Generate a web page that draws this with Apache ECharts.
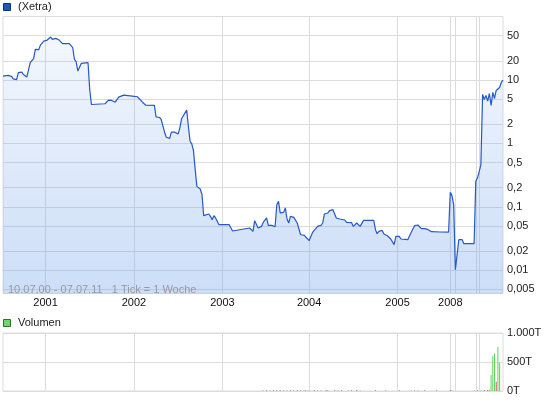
<!DOCTYPE html>
<html><head><meta charset="utf-8">
<script src="https://cdn.jsdelivr.net/npm/echarts@6/dist/echarts.min.js"></script>
<style>html,body{margin:0;padding:0;background:#fff}#c{width:545px;height:401px}</style>
</head><body><div id="c"></div>
<script>
// week index (1 Tick = 1 Woche) and price
const weeks = [0,1,3,5,6,8,9,11,12,14,16,18,19,21,22,24,26,28,29,31,33,35,39,41,42,43,44,45,46,50,51,52,60,62,64,66,68,71,76,79,82,84,89,90,92,93,95,96,98,99,101,103,104,105,106,108,109,110,111,112,113,114,116,117,118,119,121,122,123,124,125,127,133,135,136,145,147,148,149,150,152,153,155,156,158,160,161,162,163,165,166,167,168,169,171,172,173,174,175,177,179,180,181,182,183,185,186,187,188,189,191,192,194,195,196,198,201,202,203,205,206,207,208,209,210,212,218,219,220,221,223,224,226,228,229,230,231,233,234,238,240,242,244,246,248,250,252,257,262,263,264,265,266,267,268,270,271,277,278,279,280,281,282,283,284,285,286,287,288,289,290,291,292,293,294];
const prices = [11.5,10.8,11.8,11.4,10.4,10.1,13.0,13.3,12.2,11.1,18.7,21.6,30.3,30.0,35.4,41.0,42.5,47.4,43.6,45.2,42.5,37.3,37.3,32.2,21.1,19.4,13.8,15.9,18.2,18.7,7.0,4.1,4.21,4.8,4.75,4.46,5.35,5.75,5.55,5.43,4.46,4.0,3.96,2.62,2.56,2.38,1.5,1.25,1.2,1.5,1.5,1.41,1.76,2.44,2.59,3.34,1.86,1.08,0.98,0.77,0.386,0.21,0.191,0.156,0.0725,0.0744,0.0771,0.0707,0.0627,0.0725,0.0667,0.0523,0.0523,0.0416,0.0447,0.0464,0.041,0.0605,0.0589,0.0464,0.0491,0.0568,0.0667,0.051,0.051,0.0486,0.108,0.122,0.08,0.0818,0.0959,0.0643,0.0556,0.0707,0.0682,0.0707,0.0556,0.0542,0.0363,0.0359,0.0314,0.0292,0.0311,0.0395,0.041,0.0491,0.0474,0.051,0.0556,0.0771,0.08,0.087,0.0902,0.0902,0.0667,0.0643,0.062,0.0568,0.0548,0.0562,0.0491,0.0474,0.0556,0.0568,0.0491,0.0611,0.0611,0.0436,0.0377,0.041,0.0425,0.0373,0.035,0.0311,0.0292,0.0253,0.0342,0.0342,0.0311,0.0303,0.0395,0.0504,0.0517,0.0452,0.0452,0.0436,0.0405,0.0401,0.0398,0.169,0.15,0.108,0.0102,0.0102,0.0303,0.0303,0.0262,0.0262,0.252,0.286,0.359,0.463,5.9,4.92,5.69,4.63,6.12,3.96,6.35,5.1,6.83,6.58,7.61,9.13,9.93];

// volume (in T), 1 = up (green), 0 = down (red)
const volWeeks = [153,155,157,159,161,163,165,167,169,171,173,175,177,178,180,183,185,187,190,191,195,197,199,203,205,208,210,219,225,233,240,242,244,248,255,263,264,277,279,281,283,285,286,287,288,289,290,291,292];
const volValues = [12,14,12,15,18,14,12,15,12,14,12,16,14,12,15,18,14,12,16,14,12,15,12,14,12,18,12,14,12,15,12,14,12,15,12,16,14,12,15,14,16,18,22,274,600,647,160,760,485];
const volUp = [1,0,1,0,1,0,1,1,0,1,0,1,1,0,1,0,1,1,0,1,0,1,0,1,0,0,1,0,1,0,1,1,1,0,0,0,1,1,0,1,0,0,1,1,1,1,0,1,1];

const yearWeeks = [25,77,129,180,232,263,266,278,280];
const yearLabels = ['2001','2002','2003','2004','2005','2008','','',''];
const priceTicks = [0.005,0.01,0.02,0.05,0.1,0.2,0.5,1,2,5,10,20,50];
const priceTickLabels = ['0,005','0,01','0,02','0,05','0,1','0,2','0,5','1','2','5','10','20','50'];
const volTicks = [0,500,1000];
const volTickLabels = ['0T','500T','1.000T'];

const FONT = 'Liberation Sans, Arial, sans-serif';
const GRID = '#dcdcdc';

const chart = echarts.init(document.getElementById('c'), null, {renderer:'canvas'});
function priceLabel(v){
  let best = 0, bd = Infinity;
  priceTicks.forEach((t,i)=>{const d=Math.abs(Math.log(v/t)); if(d<bd){bd=d;best=i;}});
  return priceTickLabels[best];
}
const labelWeeks = yearWeeks.filter((w,i)=>yearLabels[i]);
chart.setOption({
  animation:false,
  grid:[
    {left:3,right:42,top:16.5,height:277,show:true,borderColor:GRID,borderWidth:1},
    {left:3,right:42,top:333,height:58,show:true,borderColor:GRID,borderWidth:1}
  ],
  xAxis:[
    {type:'value',gridIndex:0,min:0,max:294,axisLine:{show:false},
     axisTick:{show:false,customValues:yearWeeks},
     axisLabel:{customValues:labelWeeks,formatter:v=>yearLabels[yearWeeks.indexOf(v)],color:'#111',fontSize:11,fontFamily:FONT,margin:4},
     splitLine:{show:true,lineStyle:{color:GRID,width:1}}},
    {type:'value',gridIndex:1,min:0,max:294,axisLine:{show:false},
     axisTick:{show:false,customValues:yearWeeks},axisLabel:{show:false},
     splitLine:{show:true,lineStyle:{color:GRID,width:1}}}
  ],
  yAxis:[
    {type:'log',gridIndex:0,min:0.0043,max:100,position:'right',axisLine:{show:false},
     axisTick:{show:false,customValues:priceTicks},
     axisLabel:{customValues:priceTicks,formatter:priceLabel,color:'#222',fontSize:11,fontFamily:FONT,margin:4},
     splitLine:{show:true,lineStyle:{color:GRID,width:1}}},
    {type:'value',gridIndex:1,min:0,max:1000,interval:500,position:'right',axisLine:{show:false},axisTick:{show:false},
     axisLabel:{formatter:v=>volTickLabels[volTicks.indexOf(v)],color:'#222',fontSize:11,fontFamily:FONT,margin:4},
     splitLine:{show:true,lineStyle:{color:GRID,width:1}}}
  ],
  series:[
    {type:'line',xAxisIndex:0,yAxisIndex:0,symbol:'none',
     data:weeks.map((w,i)=>[w,prices[i]]),
     lineStyle:{color:'#2659c4',width:1.2},
     areaStyle:{origin:'start',color:new echarts.graphic.LinearGradient(0,16,0,294,[
       {offset:0,color:'rgba(110,160,235,0.08)'},{offset:0.5,color:'rgba(110,160,235,0.3)'},{offset:1,color:'rgba(110,160,235,0.5)'}],true)}},
    {type:'bar',xAxisIndex:1,yAxisIndex:1,barWidth:1,
     data:volWeeks.map((w,i)=>({value:[w,volValues[i]],itemStyle:{color:volUp[i]?'#5fd45f':'#e05252'}}))}
  ],
  graphic:[
    {type:'rect',shape:{x:3.5,y:3.5,width:7,height:7},style:{fill:'#1f56c0',stroke:'#12306e',lineWidth:1}},
    {type:'text',x:18,y:7,style:{text:'(Xetra)',font:'11px '+FONT,fill:'#222',textVerticalAlign:'middle'}},
    {type:'rect',shape:{x:3.5,y:319.5,width:7,height:7},style:{fill:'#6cd96c',stroke:'#2f6f2f',lineWidth:1}},
    {type:'text',x:18,y:323,style:{text:'Volumen',font:'11px '+FONT,fill:'#222',textVerticalAlign:'middle'}},
    {type:'text',x:8,y:290,z:100,style:{text:'10.07.00 - 07.07.11   1 Tick = 1 Woche',font:'11px '+FONT,fill:'#9a9a9a',textVerticalAlign:'middle'}}
  ]
});
</script></body></html>
